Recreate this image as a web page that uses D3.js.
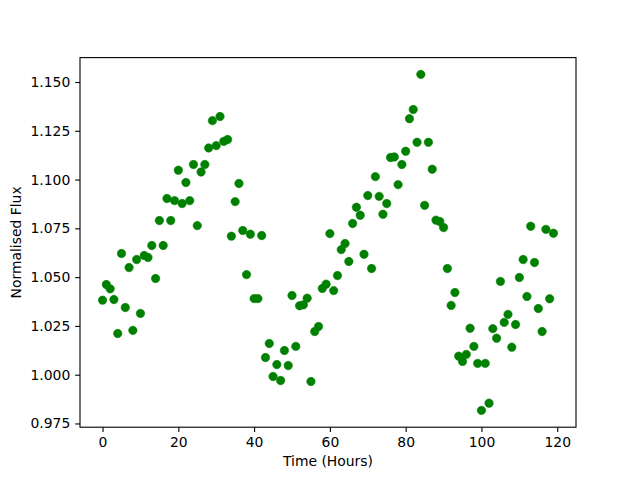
<!DOCTYPE html>
<html>
<head>
<meta charset="utf-8">
<script src="https://cdn.jsdelivr.net/npm/d3@7"></script>
<style>
  body { margin: 0; background: #fff; }
  svg { display: block; }
</style>
</head>
<body>
<script>
// Light curve: time in hours, normalised flux
const hours = d3.range(0, 120);
const flux = [
  1.0382, 1.0462, 1.0440, 1.0385, 1.0211, 1.0621, 1.0344, 1.0549, 1.0227, 1.0590,
  1.0314, 1.0611, 1.0601, 1.0662, 1.0493, 1.0790, 1.0662, 1.0903, 1.0790, 1.0892,
  1.1048, 1.0877, 1.0985, 1.0892, 1.1077, 1.0764, 1.1039, 1.1077, 1.1162, 1.1302,
  1.1174, 1.1323, 1.1196, 1.1205, 1.0710, 1.0887, 1.0980, 1.0739, 1.0513, 1.0720,
  1.0390, 1.0390, 1.0713, 1.0088, 1.0160, 0.9991, 1.0052, 0.9970, 1.0124, 1.0047,
  1.0406, 1.0145, 1.0353, 1.0358, 1.0392, 0.9965, 1.0221, 1.0247, 1.0442, 1.0464,
  1.0723, 1.0431, 1.0508, 1.0641, 1.0672, 1.0580, 1.0775, 1.0858, 1.0817, 1.0617,
  1.0918, 1.0544, 1.1015, 1.0914, 1.0822, 1.0877, 1.1113, 1.1116, 1.0974, 1.1077,
  1.1145, 1.1312, 1.1359, 1.1191, 1.1539, 1.0868, 1.1191, 1.1053, 1.0792, 1.0785,
  1.0754, 1.0544, 1.0355, 1.0421, 1.0095, 1.0068, 1.0104, 1.0238, 1.0145, 1.0058,
  0.9817, 1.0058, 0.9854, 1.0236, 1.0187, 1.0478, 1.0268, 1.0309, 1.0141, 1.0257,
  1.0498, 1.0590, 1.0401, 1.0761, 1.0575, 1.0339, 1.0221, 1.0745, 1.0389, 1.0725
];
const xTicks = [0, 20, 40, 60, 80, 100, 120];
const yTicks = [0.975, 1.000, 1.025, 1.050, 1.075, 1.100, 1.125, 1.150];

const points = hours.map((h, i) => ({ t: h, f: flux[i] }));

// Figure geometry (matplotlib defaults at 100 dpi)
const width = 640, height = 480;
const margin = { top: 57.6, right: 64, bottom: 52.8, left: 80 };
const font = "DejaVu Sans, sans-serif";
const fontSize = "13.9px";
const tick = 4.86;

function padded(ext) {
  const r = ext[1] - ext[0];
  return [ext[0] - 0.05 * r, ext[1] + 0.05 * r];
}

const x = d3.scaleLinear()
    .domain(padded(d3.extent(hours)))
    .range([margin.left, width - margin.right]);
const y = d3.scaleLinear()
    .domain(padded(d3.extent(flux)))
    .range([height - margin.bottom, margin.top]);

const svg = d3.select("body").append("svg")
    .attr("width", width)
    .attr("height", height)
    .style("font-family", font);

// Points
svg.append("g")
  .selectAll("circle")
  .data(points)
  .join("circle")
    .attr("cx", d => x(d.t))
    .attr("cy", d => y(d.f))
    .attr("r", 4.2)
    .attr("fill", "#008000")
    .attr("stroke", "#008000")
    .attr("stroke-width", 0.6);

// Axes
const xAxis = svg.append("g")
    .attr("transform", `translate(0,${height - margin.bottom})`)
    .call(d3.axisBottom(x).tickValues(xTicks).tickFormat(d3.format("d"))
      .tickSize(tick).tickSizeOuter(0).tickPadding(tick));
const yAxis = svg.append("g")
    .attr("transform", `translate(${margin.left},0)`)
    .call(d3.axisLeft(y).tickValues(yTicks).tickFormat(d3.format(".3f"))
      .tickSize(tick).tickSizeOuter(0).tickPadding(tick));

[xAxis, yAxis].forEach(a => {
  a.select(".domain").remove();
  a.selectAll(".tick line").attr("stroke", "#000").attr("stroke-width", 1.1);
  a.selectAll(".tick text")
      .attr("fill", "#000")
      .style("font-family", font)
      .style("font-size", fontSize);
});

// Frame
svg.append("rect")
    .attr("x", margin.left)
    .attr("y", margin.top)
    .attr("width", width - margin.left - margin.right)
    .attr("height", height - margin.top - margin.bottom)
    .attr("fill", "none")
    .attr("stroke", "#000")
    .attr("stroke-width", 1.1);

// Axis labels
svg.append("text")
    .attr("x", (margin.left + width - margin.right) / 2)
    .attr("y", 466)
    .attr("text-anchor", "middle")
    .style("font-size", fontSize)
    .text("Time (Hours)");

svg.append("text")
    .attr("transform", `translate(21,${(margin.top + height - margin.bottom) / 2}) rotate(-90)`)
    .attr("text-anchor", "middle")
    .style("font-size", fontSize)
    .text("Normalised Flux");
</script>
</body>
</html>
